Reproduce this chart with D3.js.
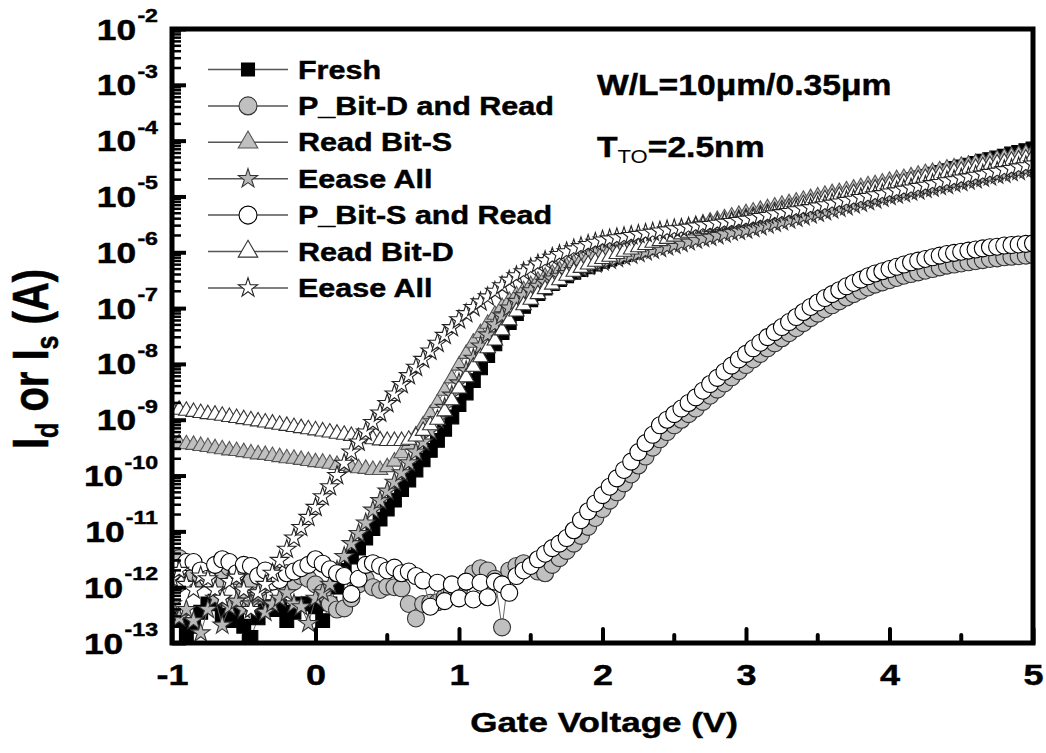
<!DOCTYPE html>
<html><head><meta charset="utf-8">
<script src="https://cdn.jsdelivr.net/npm/d3@7"></script>
<style>
html,body{margin:0;padding:0;background:#fff;}
svg{display:block;}
text{font-family:"Liberation Sans",Arial,sans-serif;font-weight:bold;fill:#000;stroke:#000;stroke-width:0.45px;}
</style></head><body>
<svg id="chart" width="1046" height="753"></svg>
<script>
// Gate-voltage sweep: -1 V to 5 V in 0.05 V steps (121 points per curve)
const vStart = -1, vStep = 0.05, nPoints = 121;

// log10 of drain/source current (A)
const freshLog = [
 -12.55,-12.6,-12.85,-12.7,-12.45,-12.3,-12.25,-12.5,-12.6,-12.45,
 -12.7,-12.9,-12.55,-12.35,-12.4,-12.35,-12.6,-12.45,-12.3,-12.3,
 -12.35,-12.6,-12.3,-12.0,-11.7,-11.46,-11.3,-11.12,-10.95,-10.78,
 -10.6,-10.44,-10.25,-10.08,-9.9,-9.72,-9.55,-9.37,-9.17,-8.95,
 -8.73,-8.52,-8.3,-8.07,-7.85,-7.64,-7.44,-7.26,-7.1,-6.97,
 -6.85,-6.74,-6.64,-6.56,-6.49,-6.42,-6.36,-6.31,-6.26,-6.21,
 -6.16,-6.12,-6.08,-6.04,-6.0,-5.96,-5.92,-5.88,-5.84,-5.8,
 -5.76,-5.72,-5.68,-5.64,-5.61,-5.57,-5.53,-5.5,-5.46,-5.43,
 -5.4,-5.37,-5.34,-5.31,-5.28,-5.25,-5.22,-5.19,-5.16,-5.13,
 -5.1,-5.07,-5.04,-5.01,-4.98,-4.95,-4.92,-4.89,-4.86,-4.83,
 -4.8,-4.77,-4.73,-4.7,-4.67,-4.64,-4.6,-4.57,-4.54,-4.5,
 -4.47,-4.44,-4.41,-4.37,-4.34,-4.31,-4.28,-4.24,-4.21,-4.18,
 -4.15];
const pBitDReadLog = [
 -11.5,-11.48,-11.6,-11.75,-11.85,-11.8,-11.93,-11.7,-11.65,-11.8,
 -12.05,-11.9,-12.15,-11.95,-11.75,-11.8,-11.95,-11.9,-11.8,-11.85,
 -11.95,-12.1,-12.3,-12.4,-12.38,-12.2,-11.95,-11.85,-12.0,-12.05,
 -11.99,-12.0,-12.02,-12.3,-12.56,-12.3,-12.28,-12.27,-12.18,-12.1,
 -12.05,-11.9,-11.75,-11.66,-11.7,-11.85,-12.72,-11.7,-11.62,-11.57,
 -11.62,-11.72,-11.75,-11.6,-11.48,-11.35,-11.22,-11.08,-10.92,-10.76,
 -10.6,-10.45,-10.3,-10.14,-9.98,-9.82,-9.66,-9.5,-9.35,-9.22,
 -9.1,-9.0,-8.9,-8.8,-8.68,-8.57,-8.46,-8.35,-8.24,-8.13,
 -8.02,-7.92,-7.82,-7.72,-7.63,-7.54,-7.45,-7.36,-7.27,-7.18,
 -7.1,-7.02,-6.95,-6.88,-6.81,-6.75,-6.69,-6.63,-6.58,-6.54,
 -6.5,-6.46,-6.42,-6.39,-6.36,-6.33,-6.3,-6.27,-6.24,-6.22,
 -6.2,-6.18,-6.16,-6.14,-6.12,-6.11,-6.09,-6.08,-6.07,-6.06,
 -6.05];
const readBitSLog = [
 -9.4,-9.42,-9.44,-9.45,-9.47,-9.49,-9.51,-9.53,-9.55,-9.56,
 -9.58,-9.6,-9.62,-9.63,-9.65,-9.67,-9.69,-9.7,-9.72,-9.74,
 -9.76,-9.77,-9.79,-9.81,-9.83,-9.85,-9.87,-9.88,-9.9,-9.9,
 -9.85,-9.75,-9.6,-9.45,-9.28,-9.1,-8.9,-8.7,-8.48,-8.26,
 -8.03,-7.82,-7.62,-7.45,-7.28,-7.12,-6.98,-6.87,-6.77,-6.68,
 -6.59,-6.51,-6.44,-6.38,-6.32,-6.26,-6.2,-6.15,-6.1,-6.05,
 -6.0,-5.96,-5.92,-5.88,-5.84,-5.8,-5.77,-5.73,-5.69,-5.66,
 -5.62,-5.59,-5.55,-5.52,-5.49,-5.45,-5.42,-5.39,-5.36,-5.33,
 -5.3,-5.27,-5.24,-5.21,-5.18,-5.15,-5.12,-5.09,-5.06,-5.03,
 -5.0,-4.97,-4.94,-4.92,-4.89,-4.86,-4.83,-4.8,-4.78,-4.75,
 -4.72,-4.69,-4.67,-4.64,-4.61,-4.58,-4.56,-4.53,-4.5,-4.48,
 -4.45,-4.43,-4.4,-4.38,-4.35,-4.33,-4.3,-4.28,-4.25,-4.23,
 -4.2];
const eraseAll1Log = [
 -12.3,-12.55,-12.4,-12.6,-12.82,-12.4,-12.2,-12.68,-12.35,-12.25,
 -12.4,-12.3,-12.15,-12.45,-12.3,-12.2,-12.1,-12.3,-12.35,-12.65,
 -12.2,-12.1,-11.95,-11.7,-11.45,-11.22,-11.04,-10.85,-10.62,-10.45,
 -10.28,-10.12,-9.95,-9.77,-9.58,-9.4,-9.2,-9.0,-8.78,-8.56,
 -8.34,-8.12,-7.9,-7.68,-7.48,-7.3,-7.14,-7.0,-6.88,-6.78,
 -6.69,-6.61,-6.54,-6.48,-6.43,-6.38,-6.33,-6.29,-6.25,-6.21,
 -6.17,-6.14,-6.11,-6.08,-6.05,-6.02,-5.99,-5.96,-5.93,-5.9,
 -5.87,-5.84,-5.81,-5.78,-5.75,-5.73,-5.7,-5.67,-5.64,-5.62,
 -5.6,-5.57,-5.54,-5.51,-5.48,-5.45,-5.42,-5.39,-5.36,-5.33,
 -5.3,-5.27,-5.24,-5.21,-5.18,-5.15,-5.12,-5.09,-5.06,-5.03,
 -5.0,-4.97,-4.95,-4.92,-4.9,-4.87,-4.85,-4.82,-4.8,-4.77,
 -4.75,-4.72,-4.7,-4.67,-4.65,-4.62,-4.6,-4.57,-4.55,-4.52,
 -4.5];
const pBitSReadLog = [
 -11.75,-11.65,-11.55,-11.55,-11.7,-11.85,-11.6,-11.5,-11.55,-11.75,
 -11.6,-11.62,-11.8,-11.7,-11.9,-11.87,-11.75,-11.72,-11.66,-11.6,
 -11.5,-11.58,-11.68,-11.75,-11.8,-12.12,-11.85,-11.6,-11.57,-11.62,
 -11.7,-11.65,-11.75,-11.72,-11.8,-11.88,-12.35,-11.92,-12.25,-11.95,
 -12.2,-11.9,-12.22,-11.92,-12.18,-11.9,-11.95,-12.1,-11.8,-11.7,
 -11.62,-11.5,-11.4,-11.3,-11.22,-11.12,-10.98,-10.8,-10.64,-10.5,
 -10.35,-10.2,-10.05,-9.9,-9.75,-9.58,-9.42,-9.27,-9.1,-9.0,
 -8.9,-8.8,-8.7,-8.6,-8.48,-8.36,-8.25,-8.14,-8.03,-7.92,
 -7.82,-7.72,-7.62,-7.52,-7.43,-7.34,-7.25,-7.16,-7.07,-6.98,
 -6.9,-6.82,-6.75,-6.68,-6.61,-6.55,-6.49,-6.43,-6.38,-6.34,
 -6.3,-6.26,-6.22,-6.18,-6.15,-6.12,-6.09,-6.06,-6.03,-6.01,
 -5.99,-5.97,-5.95,-5.93,-5.91,-5.9,-5.88,-5.87,-5.86,-5.85,
 -5.84];
const readBitDLog = [
 -8.8,-8.82,-8.84,-8.86,-8.88,-8.9,-8.91,-8.93,-8.95,-8.97,
 -8.99,-9.01,-9.03,-9.05,-9.07,-9.09,-9.11,-9.13,-9.15,-9.17,
 -9.19,-9.21,-9.23,-9.25,-9.27,-9.29,-9.31,-9.33,-9.35,-9.37,
 -9.38,-9.38,-9.38,-9.36,-9.3,-9.2,-9.1,-9.0,-8.85,-8.65,
 -8.44,-8.24,-8.05,-7.88,-7.72,-7.58,-7.4,-7.22,-7.06,-6.95,
 -6.85,-6.75,-6.66,-6.58,-6.5,-6.42,-6.35,-6.28,-6.22,-6.17,
 -6.12,-6.08,-6.03,-5.99,-5.95,-5.91,-5.87,-5.83,-5.8,-5.76,
 -5.72,-5.68,-5.65,-5.61,-5.58,-5.54,-5.51,-5.48,-5.45,-5.41,
 -5.38,-5.35,-5.32,-5.29,-5.26,-5.23,-5.2,-5.17,-5.14,-5.11,
 -5.08,-5.05,-5.02,-4.99,-4.97,-4.94,-4.91,-4.88,-4.86,-4.83,
 -4.8,-4.77,-4.75,-4.72,-4.69,-4.67,-4.64,-4.62,-4.59,-4.56,
 -4.54,-4.51,-4.49,-4.46,-4.44,-4.41,-4.39,-4.36,-4.34,-4.32,
 -4.29];
const eraseAll2Log = [
 -11.85,-11.7,-11.95,-12.05,-11.8,-11.85,-12.05,-12.2,-11.9,-11.82,
 -12.05,-12.4,-12.1,-11.95,-11.75,-11.52,-11.32,-11.12,-10.93,-10.75,
 -10.57,-10.38,-10.2,-10.0,-9.78,-9.58,-9.4,-9.22,-9.05,-8.88,
 -8.71,-8.54,-8.37,-8.21,-8.06,-7.92,-7.77,-7.63,-7.49,-7.35,
 -7.21,-7.1,-6.99,-6.89,-6.8,-6.7,-6.6,-6.5,-6.42,-6.35,
 -6.28,-6.21,-6.15,-6.09,-6.04,-5.99,-5.94,-5.9,-5.86,-5.82,
 -5.78,-5.76,-5.74,-5.72,-5.7,-5.68,-5.66,-5.64,-5.62,-5.6,
 -5.58,-5.57,-5.55,-5.53,-5.51,-5.5,-5.48,-5.46,-5.45,-5.43,
 -5.41,-5.39,-5.36,-5.34,-5.31,-5.29,-5.27,-5.24,-5.22,-5.2,
 -5.17,-5.15,-5.12,-5.1,-5.07,-5.05,-5.02,-5.0,-4.97,-4.95,
 -4.92,-4.9,-4.87,-4.85,-4.82,-4.8,-4.77,-4.75,-4.72,-4.7,
 -4.67,-4.65,-4.62,-4.6,-4.57,-4.55,-4.52,-4.5,-4.47,-4.45,
 -4.42];

const seriesNames = ["Fresh","P_Bit-D and Read","Read Bit-S","Eease All","P_Bit-S and Read","Read Bit-D","Eease All"];
const xTickValues = [-1,0,1,2,3,4,5];
const xMinorTicks = [-0.5,0.5,1.5,2.5,3.5,4.5];
const yExponents = [-2,-3,-4,-5,-6,-7,-8,-9,-10,-11,-12,-13];
const xTitle = "Gate Voltage (V)";

const series = [
 {name:seriesNames[0], data:freshLog,     shape:"square",   fill:"#000",    stroke:"#000"},
 {name:seriesNames[1], data:pBitDReadLog, shape:"circle",   fill:"#c0c0c0", stroke:"#333"},
 {name:seriesNames[2], data:readBitSLog,  shape:"triangle", fill:"#c0c0c0", stroke:"#555"},
 {name:seriesNames[3], data:eraseAll1Log, shape:"star",     fill:"#b8b8b8", stroke:"#333"},
 {name:seriesNames[4], data:pBitSReadLog, shape:"circle",   fill:"#fff",    stroke:"#000"},
 {name:seriesNames[5], data:readBitDLog,  shape:"triangle", fill:"#fff",    stroke:"#333"},
 {name:seriesNames[6], data:eraseAll2Log, shape:"star",     fill:"#fff",    stroke:"#222"}
];

const W=1046, H=753, L=172, R=1033, T=29, B=643;
const svg = d3.select("#chart");
svg.append("rect").attr("width",W).attr("height",H).attr("fill","#fff");

const x = d3.scaleLinear().domain([-1,5]).range([L,R]);
const y = d3.scaleLog().domain([1e-13,1e-2]).range([B,T]);

svg.append("defs").append("clipPath").attr("id","clip")
  .append("rect").attr("x",L).attr("y",T).attr("width",R-L).attr("height",B-T);

const sym = {
  square:   d3.symbol().type(d3.symbolSquare).size(190),
  circle:   d3.symbol().type(d3.symbolCircle).size(227),
  triangle: d3.symbol().type(d3.symbolTriangle).size(105),
  star:     d3.symbol().type(d3.symbolStar).size(108)
};
const legSym = {
  square:   d3.symbol().type(d3.symbolSquare).size(169),
  circle:   d3.symbol().type(d3.symbolCircle).size(254),
  triangle: d3.symbol().type(d3.symbolTriangle).size(165),
  star:     d3.symbol().type(d3.symbolStar).size(115)
};

const volts = d3.range(nPoints).map(i => +(vStart + i*vStep).toFixed(2));
const plot = svg.append("g").attr("clip-path","url(#clip)");
const line = d3.line().x(d=>x(d[0])).y(d=>y(d[1]));

series.forEach(s => {
  const pts = s.data.map((v,i)=>[volts[i], Math.pow(10, v)]);
  const g = plot.append("g");
  g.append("path").attr("d", line(pts)).attr("fill","none").attr("stroke","#666").attr("stroke-width",1);
  g.selectAll("path.m").data(pts).join("path").attr("class","m")
    .attr("transform", d=>`translate(${x(d[0])},${y(d[1])})`)
    .attr("d", sym[s.shape]())
    .attr("fill", s.fill).attr("stroke", s.stroke).attr("stroke-width",1.1);
});

// Frame
svg.append("rect").attr("x",L).attr("y",T).attr("width",R-L).attr("height",B-T)
  .attr("fill","none").attr("stroke","#000").attr("stroke-width",5);

// X axis (ticks inward)
const gx = svg.append("g").attr("transform",`translate(0,${B})`)
  .call(d3.axisBottom(x).tickValues(xTickValues).tickSize(-14).tickPadding(0).tickFormat(d=>String(d)));
gx.select(".domain").remove();
gx.selectAll(".tick line").attr("stroke","#000").attr("stroke-width",4).attr("stroke-linecap","round");
gx.selectAll(".tick text")
  .attr("y",42).attr("dy",0)
  .attr("font-size",30).attr("font-family","Liberation Sans, Arial, sans-serif").attr("font-weight","bold")
  .attr("transform","scale(1.2,1)").attr("fill","#000");
gx.selectAll(".minor").data(xMinorTicks).join("line").attr("class","minor")
  .attr("x1",d=>x(d)).attr("x2",d=>x(d)).attr("y1",0).attr("y2",-8)
  .attr("stroke","#000").attr("stroke-width",4).attr("stroke-linecap","round");

// Y axis (ticks inward, log minors)
const gy = svg.append("g").attr("transform",`translate(${L},0)`)
  .call(d3.axisLeft(y).tickValues(yExponents.map(e=>Math.pow(10,e))).tickSize(-14).tickFormat(""));
gy.select(".domain").remove();
gy.selectAll(".tick line").attr("stroke","#000").attr("stroke-width",4);
const minorY = [];
yExponents.slice(1).forEach(e => { for (let k=2;k<=9;k++) minorY.push(k*Math.pow(10,e)); });
gy.selectAll(".minor").data(minorY).join("line").attr("class","minor")
  .attr("x1",0).attr("x2",9).attr("y1",d=>y(d)).attr("y2",d=>y(d))
  .attr("stroke","#000").attr("stroke-width",2.5);

yExponents.forEach(e => {
  const yy = y(Math.pow(10,e));
  const t = svg.append("text").attr("transform",`translate(158,${yy}) scale(1.22,1)`)
    .attr("text-anchor","end").attr("y",10.5);
  t.append("tspan").attr("font-size",29).text("10");
  t.append("tspan").attr("dy",-17.5).attr("dx",1).attr("font-size",19).text(String(e));
});

// Axis titles
svg.append("text").attr("transform","translate(604,732) scale(1.25,1)").attr("text-anchor","middle")
  .attr("font-size",28).text(xTitle);

const yt = svg.append("text").attr("transform","translate(48,359) rotate(-90) scale(1,1.25)")
  .attr("text-anchor","middle").attr("font-size",40);
yt.append("tspan").text("I");
yt.append("tspan").attr("font-size",25).attr("dy",8).text("d");
yt.append("tspan").attr("dy",-8).text(" or I");
yt.append("tspan").attr("font-size",25).attr("dy",8).text("s");
yt.append("tspan").attr("dy",-8).text(" (A)");

// Legend
const lg = svg.append("g");
series.forEach((s,i) => {
  const yy = 69.5 + i*36.4;
  lg.append("line").attr("x1",208).attr("x2",288).attr("y1",yy).attr("y2",yy)
    .attr("stroke","#555").attr("stroke-width",1.5);
  lg.append("path").attr("transform",`translate(248,${yy})`).attr("d",legSym[s.shape]())
    .attr("fill",s.fill).attr("stroke",s.stroke).attr("stroke-width",1.1);
  lg.append("text").attr("transform",`translate(298,${yy+9}) scale(1.22,1)`).attr("font-size",25).text(s.name);
});

// Annotations
svg.append("text").attr("transform","translate(597,95) scale(1.16,1)").attr("font-size",29).text("W/L=10μm/0.35μm");
const tt = svg.append("text").attr("transform","translate(597,157) scale(1.16,1)").attr("font-size",29);
tt.append("tspan").text("T");
tt.append("tspan").attr("font-size",19).attr("font-weight","normal").attr("stroke-width",0).attr("dy",6).text("TO");
tt.append("tspan").attr("dy",-6).text("=2.5nm");
</script>
</body></html>
